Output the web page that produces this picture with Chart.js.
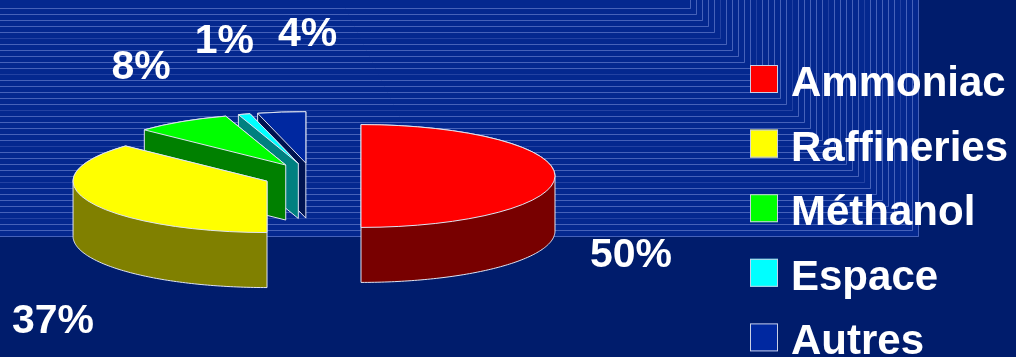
<!DOCTYPE html>
<html>
<head>
<meta charset="utf-8">
<script src="https://cdn.jsdelivr.net/npm/chart.js@4.4.1/dist/chart.umd.min.js"></script>
<style>
  html, body { margin: 0; padding: 0; background: #001c6c; overflow: hidden; }
  canvas { display: block; }
</style>
</head>
<body>
<canvas id="chart" width="1016" height="357"></canvas>
<script>
// data
const categories = ['Ammoniac', 'Raffineries', 'Méthanol', 'Espace', 'Autres'];
const shares = [50, 37, 8, 1, 4];
const topColors = ['#ff0000', '#ffff00', '#00ff00', '#00ffff', '#0028a0'];
const sideColors = ['#780000', '#808000', '#008000', '#008080', '#001450'];

// look of the 3d pie
const TILT = 0.265;     // vertical squash of the disc
const DEPTH = 55;       // thickness in px
const EXPLODE = 49;     // every slice pulled out by this much
const EDGE = '#dfe4f2';
const FONT = 'bold 42px Arial, "Liberation Sans", sans-serif';
const LABEL_FONT = 'bold 41px Arial, "Liberation Sans", sans-serif';

const background = {
  id: 'background',
  beforeDraw(chart) {
    const { ctx, width, height } = chart;
    ctx.save();
    ctx.fillStyle = '#001c6c';
    ctx.fillRect(0, 0, width, height);
    // nested corner lines, top left block is a bit lighter
    const n = 39, step = 6, x0 = 690, y0 = 8;
    ctx.fillStyle = '#04288f';
    ctx.fillRect(0, 0, x0 + step * (n - 1) + 1, y0 + step * (n - 1) + 1);
    ctx.lineWidth = 1;
    for (let i = 0; i < n; i++) {
      const x = x0 + step * i + 0.5, y = y0 + step * i + 0.5;
      ctx.strokeStyle = i % 6 === 5 ? 'rgba(110,130,210,0.3)' : 'rgba(125,145,220,0.55)';
      ctx.beginPath();
      ctx.moveTo(0, y);
      ctx.lineTo(x, y);
      ctx.lineTo(x, 0);
      ctx.stroke();
    }
    ctx.restore();
  }
};

function wedgePoints(s) {
  const { startAngle, endAngle, outerRadius } = s.p;
  const pts = [[s.cx, s.cy]];
  const n = Math.max(2, Math.ceil((endAngle - startAngle) / (Math.PI / 180)));
  for (let k = 0; k <= n; k++) {
    const t = startAngle + (endAngle - startAngle) * k / n;
    pts.push([s.cx + outerRadius * Math.cos(t), s.cy + outerRadius * TILT * Math.sin(t)]);
  }
  return pts;
}

function convexHull(points) {
  const pts = points.slice().sort((a, b) => a[0] - b[0] || a[1] - b[1]);
  const cross = (o, a, b) => (a[0] - o[0]) * (b[1] - o[1]) - (a[1] - o[1]) * (b[0] - o[0]);
  const lower = [], upper = [];
  for (const p of pts) {
    while (lower.length >= 2 && cross(lower[lower.length - 2], lower[lower.length - 1], p) <= 0) lower.pop();
    lower.push(p);
  }
  for (const p of pts.reverse()) {
    while (upper.length >= 2 && cross(upper[upper.length - 2], upper[upper.length - 1], p) <= 0) upper.pop();
    upper.push(p);
  }
  upper.pop();
  lower.pop();
  return lower.concat(upper);
}

function tracePath(ctx, pts) {
  ctx.beginPath();
  pts.forEach(([x, y], k) => (k ? ctx.lineTo(x, y) : ctx.moveTo(x, y)));
  ctx.closePath();
}

function sliceInfo(chart) {
  const meta = chart.getDatasetMeta(0);
  return meta.data.map((arc, i) => {
    const p = arc.getProps(['x', 'y', 'startAngle', 'endAngle', 'outerRadius'], true);
    const mid = (p.startAngle + p.endAngle) / 2;
    return {
      arc, i, p, mid,
      cx: p.x + Math.cos(mid) * EXPLODE,
      cy: p.y + Math.sin(mid) * EXPLODE * TILT
    };
  });
}

const pie3d = {
  id: 'pie3d',
  beforeDatasetsDraw(chart) {
    const ctx = chart.ctx;
    const slices = sliceInfo(chart).sort((a, b) => a.cy - b.cy); // back ones first
    slices.forEach(s => {
      const top = wedgePoints(s);
      const bottom = top.map(([x, y]) => [x, y + DEPTH]);
      ctx.save();
      ctx.lineWidth = 1;
      ctx.strokeStyle = EDGE;
      tracePath(ctx, convexHull(top.concat(bottom)));
      ctx.fillStyle = sideColors[s.i];
      ctx.fill();
      ctx.stroke();

      // top face: the library arc, squashed onto the disc
      ctx.save();
      ctx.translate(s.cx, s.cy);
      ctx.scale(1, TILT);
      ctx.translate(-s.p.x, -s.p.y);
      s.arc.draw(ctx);
      ctx.restore();

      ctx.beginPath();
      ctx.moveTo(s.cx, s.cy);
      ctx.ellipse(s.cx, s.cy, s.p.outerRadius, s.p.outerRadius * TILT, 0, s.p.startAngle, s.p.endAngle);
      ctx.closePath();
      ctx.stroke();
      ctx.restore();
    });
    return false;
  }
};

const labelsAndLegend = {
  id: 'labelsAndLegend',
  afterDraw(chart) {
    const { ctx, width, height } = chart;
    ctx.save();
    ctx.fillStyle = '#ffffff';
    ctx.font = LABEL_FONT;
    ctx.textAlign = 'left';

    // percent labels around the disc, kept on the canvas and apart from each other
    const boxes = sliceInfo(chart).map(s => {
      const text = shares[s.i] + '%';
      const w = ctx.measureText(text).width, h = 32;
      let x = s.cx + 270 * Math.cos(s.mid) - w / 2;
      let y = s.cy + 210 * Math.sin(s.mid) + 76 - h / 2;
      x = Math.min(Math.max(x, 12), width - 12 - w);
      y = Math.min(Math.max(y, 8), height - 23 - h);
      return { text, x, y, w, h };
    });
    boxes.sort((a, b) => a.x - b.x);
    boxes.forEach((b, k) => {
      for (let j = 0; j < k; j++) {
        const o = boxes[j];
        const overlapY = b.y < o.y + o.h && o.y < b.y + b.h;
        if (overlapY && b.x < o.x + o.w + 24) b.x = o.x + o.w + 24;
      }
      ctx.fillText(b.text, b.x, b.y + b.h - 1);
    });

    ctx.font = FONT;
    chart.data.labels.forEach((name, i) => {
      const yc = 79 + i * 64.6;
      ctx.fillStyle = topColors[i];
      ctx.fillRect(750, yc - 14, 28, 28);
      ctx.strokeStyle = '#c9cfe4';
      ctx.lineWidth = 1;
      ctx.strokeRect(750.5, yc - 13.5, 27, 27);
      ctx.fillStyle = '#ffffff';
      ctx.fillText(name, 791, yc + 17);
    });
    ctx.restore();
  }
};

new Chart(document.getElementById('chart'), {
  type: 'pie',
  data: {
    labels: categories,
    datasets: [{
      data: shares,
      backgroundColor: topColors,
      borderWidth: 0
    }]
  },
  options: {
    responsive: false,
    animation: false,
    events: [],
    radius: 194,
    layout: { padding: { left: 0, right: 392, top: 0, bottom: 5 } },
    plugins: {
      legend: { display: false },
      tooltip: { enabled: false }
    }
  },
  plugins: [background, pie3d, labelsAndLegend]
});
</script>
</body>
</html>
